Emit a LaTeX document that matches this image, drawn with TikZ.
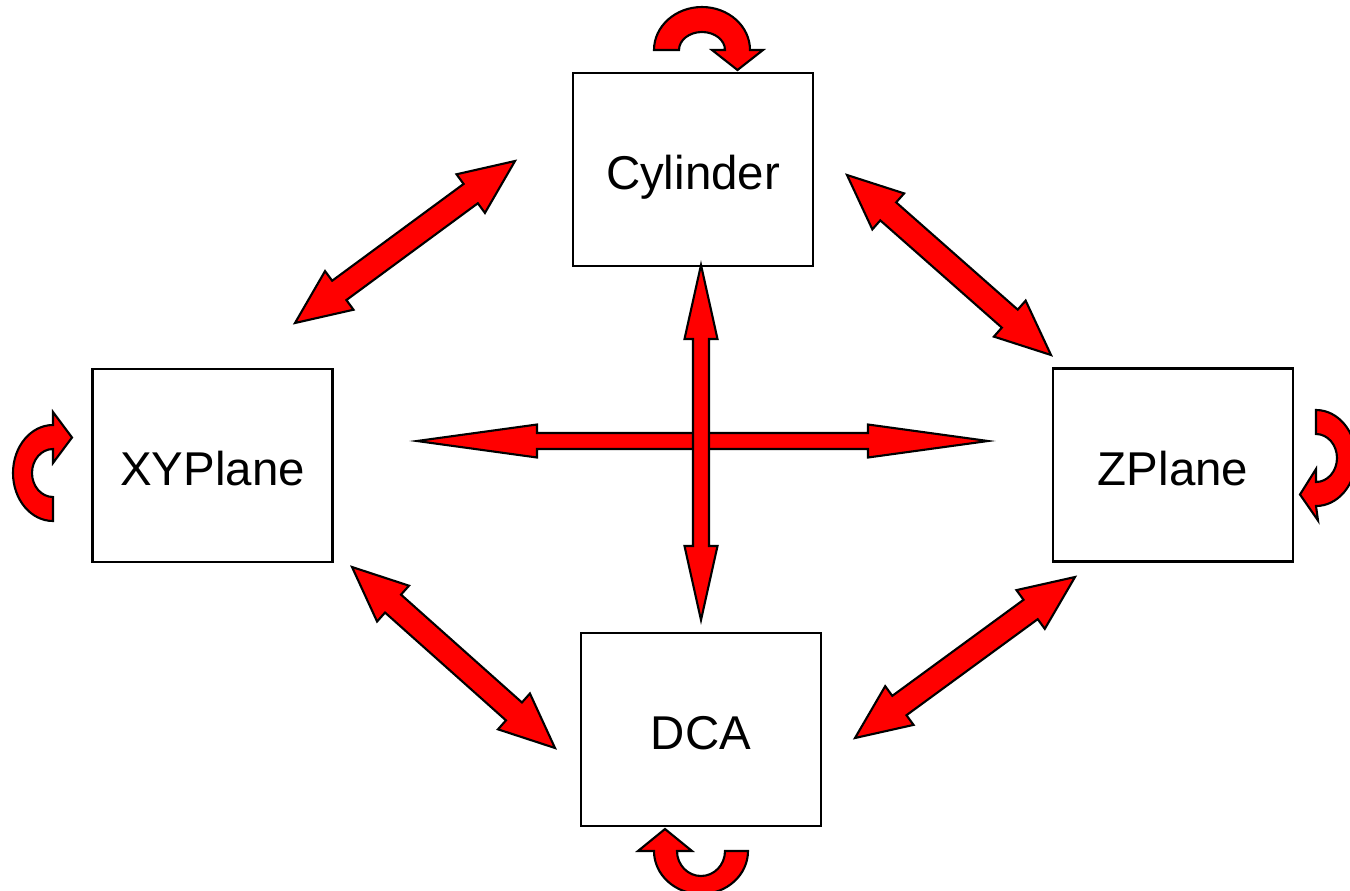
\documentclass[tikz,border=0pt]{standalone}
\usepackage{fontspec}
\setmainfont{Liberation Sans}
\usetikzlibrary{calc}
\tikzset{
  box/.style={draw=black, line width=1.2pt, minimum width=4.8cm, minimum height=3.86cm,
    inner sep=0pt, text height=28pt, text depth=5pt, font=\fontsize{27}{32}\selectfont},
  blockarr/.style={draw=black, fill=red, line width=1.2pt, line join=miter},
}
\newcommand{\blockarrow}[5]{%
  \path ($(#1)!#3!(#2)$) coordinate (hA) ($(#2)!#3!(#1)$) coordinate (hB);
  \draw[blockarr] (#1) -- ($(hA)!#4!90:(#2)$) -- ($(hA)!#5!90:(#2)$)
    -- ($(hB)!#5!-90:(#1)$) -- ($(hB)!#4!-90:(#1)$) -- (#2)
    -- ($(hB)!#4!90:(#1)$) -- ($(hB)!#5!90:(#1)$)
    -- ($(hA)!#5!-90:(#2)$) -- ($(hA)!#4!-90:(#2)$) -- cycle;
}
\begin{document}
\begin{tikzpicture}[x=0.02cm,y=-0.02cm]
\useasboundingbox (0,0) rectangle (1350,890);
\clip (0,0) rectangle (1350,890);
% arrow end points
\coordinate (a1) at (515,161);  \coordinate (a2) at (295,323);
\coordinate (b1) at (847,175);  \coordinate (b2) at (1051,355);
\coordinate (c1) at (352,567);  \coordinate (c2) at (555,748);
\coordinate (d1) at (1075,577); \coordinate (d2) at (855,738);
\coordinate (h1) at (417,441);  \coordinate (h2) at (988,441);
\coordinate (v1) at (701,265);  \coordinate (v2) at (701,620);
% diagonal double arrows
\blockarrow{a1}{a2}{1.1cm}{0.48cm}{0.24cm}
\blockarrow{b1}{b2}{1.1cm}{0.48cm}{0.24cm}
\blockarrow{c1}{c2}{1.1cm}{0.48cm}{0.24cm}
\blockarrow{d1}{d2}{1.1cm}{0.48cm}{0.24cm}
% cross
\blockarrow{h1}{h2}{2.4cm}{0.33cm}{0.16cm}
\blockarrow{v1}{v2}{1.48cm}{0.33cm}{0.16cm}
% self loops
\draw[blockarr] (654,50) arc[start angle=180,end angle=360,x radius=48,y radius=43]
  -- (763,50) -- (737.5,70) -- (712,50) -- (725,50)
  arc[start angle=360,end angle=180,x radius=23,y radius=18] -- cycle;
\draw[blockarr] (748,851) arc[start angle=0,end angle=180,x radius=47,y radius=43]
  -- (638,851) -- (665,829) -- (692,851) -- (677,851)
  arc[start angle=180,end angle=0,x radius=24,y radius=25] -- cycle;
\draw[blockarr] (53,521) arc[start angle=90,end angle=270,x radius=40,y radius=48]
  -- (53,412) -- (72,437.5) -- (53,463) -- (53,449)
  arc[start angle=270,end angle=90,x radius=21,y radius=24] -- cycle;
\draw[blockarr] (1316,410) arc[start angle=270,end angle=450,x radius=40,y radius=48]
  -- (1318,520.5) -- (1300,494.5) -- (1316,469) -- (1316,482)
  arc[start angle=450,end angle=270,x radius=21,y radius=24] -- cycle;
% boxes
\node[box] (cyl) at (693,169.5) {Cylinder};
\node[box] (xy) at (212.5,465.5) {XYPlane};
\node[box] (zp) at (1173,465) {ZPlane};
\node[box] (dca) at (701,729.5) {DCA};
\end{tikzpicture}
\end{document}
